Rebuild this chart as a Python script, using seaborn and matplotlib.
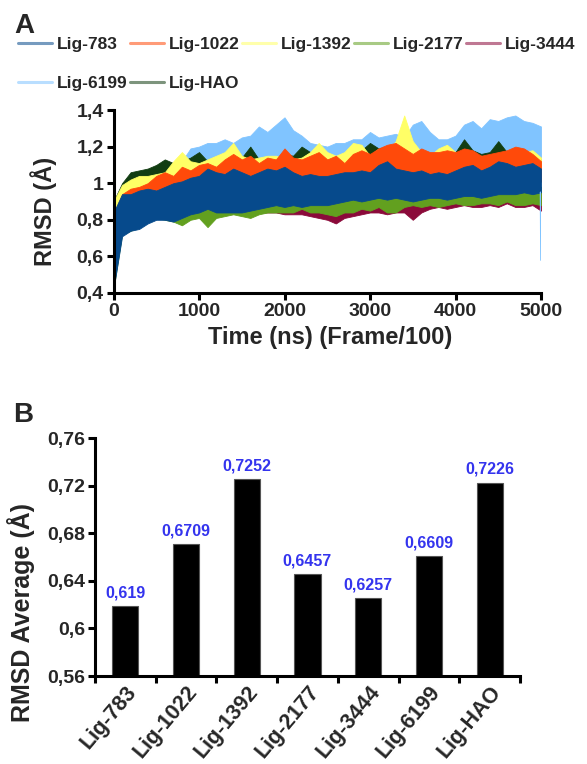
import numpy as np
import pandas as pd
import matplotlib
matplotlib.use("Agg")
import matplotlib.pyplot as plt
from matplotlib.lines import Line2D
from matplotlib.ticker import FuncFormatter
import seaborn as sns

sns.set_theme(style="ticks")
plt.rcParams["font.family"] = ["Liberation Sans", "DejaVu Sans"]
plt.rcParams["font.weight"] = "bold"

ligands = ["Lig-783", "Lig-1022", "Lig-1392", "Lig-2177", "Lig-3444", "Lig-6199", "Lig-HAO"]
colors = {
    "Lig-783": "#064a8c",
    "Lig-1022": "#ff4a0a",
    "Lig-1392": "#ffff66",
    "Lig-2177": "#62a01f",
    "Lig-3444": "#8b0a3a",
    "Lig-6199": "#80c4ff",
    "Lig-HAO": "#123d12",
}

# trajectory frames (Frame/100)
frames = [0, 100, 200, 300, 400, 500, 600, 700, 800, 900,
          1000, 1100, 1200, 1300, 1400, 1500, 1600, 1700, 1800, 1900,
          2000, 2100, 2200, 2300, 2400, 2500, 2600, 2700, 2800, 2900,
          3000, 3100, 3200, 3300, 3400, 3500, 3600, 3700, 3800, 3900,
          4000, 4100, 4200, 4300, 4400, 4500, 4600, 4700, 4800, 4900, 5000]

# RMSD fluctuation range per ligand: upper (_hi) and lower (_lo) extremes at each frame
lig783_hi = [0.84, 0.94, 0.94, 0.96, 0.97, 0.96, 0.98, 1.00, 1.01, 1.03,
             1.04, 1.08, 1.06, 1.05, 1.08, 1.06, 1.04, 1.06, 1.08, 1.07,
             1.09, 1.06, 1.04, 1.05, 1.04, 1.04, 1.05, 1.06, 1.06, 1.07,
             1.06, 1.10, 1.12, 1.08, 1.07, 1.06, 1.07, 1.05, 1.06, 1.05,
             1.07, 1.09, 1.10, 1.07, 1.09, 1.12, 1.11, 1.09, 1.10, 1.11, 1.08]
lig783_lo = [0.42, 0.71, 0.74, 0.75, 0.78, 0.80, 0.80, 0.79, 0.81, 0.83,
             0.84, 0.86, 0.84, 0.84, 0.84, 0.84, 0.85, 0.86, 0.87, 0.88,
             0.87, 0.88, 0.87, 0.88, 0.88, 0.88, 0.89, 0.90, 0.91, 0.90,
             0.91, 0.92, 0.91, 0.92, 0.91, 0.90, 0.91, 0.92, 0.92, 0.91,
             0.92, 0.93, 0.93, 0.92, 0.93, 0.94, 0.94, 0.94, 0.95, 0.94, 0.95]

lig1022_hi = [0.83, 0.94, 0.97, 0.98, 1.00, 1.04, 1.06, 1.04, 1.09, 1.07,
              1.10, 1.11, 1.09, 1.13, 1.16, 1.13, 1.15, 1.11, 1.14, 1.13,
              1.19, 1.14, 1.13, 1.15, 1.17, 1.13, 1.15, 1.11, 1.16, 1.18,
              1.16, 1.19, 1.21, 1.22, 1.19, 1.16, 1.19, 1.17, 1.17, 1.18,
              1.17, 1.19, 1.18, 1.15, 1.16, 1.17, 1.18, 1.20, 1.19, 1.16, 1.12]

lig1392_hi = [0.90, 0.99, 1.02, 1.04, 1.04, 1.05, 1.06, 1.12, 1.17, 1.12,
              1.11, 1.13, 1.15, 1.17, 1.22, 1.15, 1.13, 1.14, 1.15, 1.15,
              1.14, 1.13, 1.14, 1.17, 1.22, 1.17, 1.15, 1.17, 1.22, 1.21,
              1.15, 1.19, 1.17, 1.23, 1.37, 1.23, 1.17, 1.15, 1.19, 1.21,
              1.17, 1.15, 1.14, 1.15, 1.12, 1.14, 1.15, 1.14, 1.17, 1.18, 1.14]

ligHAO_hi = [0.90, 1.00, 1.06, 1.07, 1.08, 1.10, 1.13, 1.11, 1.12, 1.14,
             1.17, 1.12, 1.13, 1.15, 1.14, 1.14, 1.20, 1.13, 1.14, 1.14,
             1.16, 1.15, 1.20, 1.17, 1.15, 1.15, 1.14, 1.16, 1.21, 1.18,
             1.22, 1.19, 1.20, 1.18, 1.19, 1.20, 1.16, 1.16, 1.17, 1.18,
             1.17, 1.24, 1.18, 1.16, 1.17, 1.23, 1.17, 1.19, 1.18, 1.16, 1.13]

lig6199_hi = [0.70, 0.95, 1.00, 1.02, 1.04, 1.06, 1.08, 1.10, 1.12, 1.19,
              1.20, 1.22, 1.22, 1.24, 1.22, 1.25, 1.26, 1.31, 1.28, 1.32,
              1.36, 1.29, 1.26, 1.22, 1.21, 1.20, 1.22, 1.22, 1.24, 1.24,
              1.28, 1.25, 1.26, 1.27, 1.25, 1.32, 1.34, 1.28, 1.24, 1.24,
              1.26, 1.32, 1.34, 1.30, 1.35, 1.34, 1.36, 1.37, 1.34, 1.33, 1.31]

# lower extremes of the upper traces (they stay under the Lig-783 trace)
upper_traces_lo = [0.45, 0.78, 0.80, 0.81, 0.84, 0.86, 0.86, 0.85, 0.87, 0.89,
                   0.90, 0.92, 0.90, 0.90, 0.90, 0.90, 0.91, 0.92, 0.93, 0.94,
                   0.93, 0.94, 0.93, 0.94, 0.94, 0.94, 0.95, 0.96, 0.97, 0.96,
                   0.97, 0.98, 0.97, 0.98, 0.97, 0.96, 0.97, 0.98, 0.98, 0.97,
                   0.98, 0.99, 0.99, 0.98, 0.99, 1.00, 1.00, 1.00, 1.01, 1.00, 1.01]

lig2177_hi = [0.70, 0.85, 0.88, 0.90, 0.91, 0.92, 0.93, 0.94, 0.95, 0.96,
              0.96, 0.97, 0.97, 0.97, 0.97, 0.97, 0.97, 0.97, 0.98, 0.98,
              0.98, 0.98, 0.98, 0.98, 0.98, 0.98, 0.99, 0.99, 0.99, 0.99,
              0.99, 1.00, 1.00, 1.00, 1.00, 1.00, 1.00, 1.00, 1.00, 1.00,
              1.00, 1.00, 1.00, 1.00, 1.00, 1.00, 1.00, 1.00, 1.00, 1.00, 0.98]
lig2177_lo = [0.42, 0.72, 0.74, 0.76, 0.79, 0.81, 0.80, 0.79, 0.77, 0.80,
              0.81, 0.76, 0.81, 0.82, 0.83, 0.82, 0.81, 0.83, 0.84, 0.84,
              0.84, 0.84, 0.86, 0.84, 0.84, 0.83, 0.82, 0.84, 0.84, 0.86,
              0.85, 0.87, 0.84, 0.84, 0.87, 0.88, 0.87, 0.88, 0.87, 0.88,
              0.89, 0.88, 0.88, 0.89, 0.89, 0.88, 0.90, 0.88, 0.88, 0.89, 0.88]

lig3444_hi = [0.68, 0.83, 0.86, 0.88, 0.89, 0.90, 0.91, 0.92, 0.93, 0.94,
              0.94, 0.95, 0.95, 0.95, 0.95, 0.95, 0.95, 0.95, 0.96, 0.96,
              0.96, 0.96, 0.96, 0.96, 0.96, 0.96, 0.97, 0.97, 0.97, 0.97,
              0.97, 0.98, 0.98, 0.98, 0.98, 0.98, 0.98, 0.98, 0.98, 0.98,
              0.98, 0.98, 0.98, 0.98, 0.98, 0.98, 0.98, 0.98, 0.98, 0.98, 0.96]
lig3444_lo = [0.45, 0.74, 0.76, 0.78, 0.80, 0.82, 0.82, 0.82, 0.82, 0.83,
              0.83, 0.83, 0.83, 0.84, 0.84, 0.84, 0.84, 0.84, 0.84, 0.84,
              0.83, 0.83, 0.83, 0.82, 0.81, 0.80, 0.78, 0.81, 0.82, 0.83,
              0.84, 0.84, 0.83, 0.84, 0.84, 0.80, 0.84, 0.86, 0.87, 0.86,
              0.87, 0.88, 0.87, 0.87, 0.88, 0.87, 0.89, 0.87, 0.87, 0.88, 0.85]

# final frame drop of Lig-6199
lig6199_end_frames = [4995, 5000]
lig6199_end_rmsd = [0.95, 0.58]

# average RMSD per ligand
rmsd_avg = [0.619, 0.6709, 0.7252, 0.6457, 0.6257, 0.6609, 0.7226]

ranges = {
    "Lig-783": (lig783_hi, lig783_lo),
    "Lig-1022": (lig1022_hi, upper_traces_lo),
    "Lig-1392": (lig1392_hi, upper_traces_lo),
    "Lig-2177": (lig2177_hi, lig2177_lo),
    "Lig-3444": (lig3444_hi, lig3444_lo),
    "Lig-6199": (lig6199_hi, upper_traces_lo),
    "Lig-HAO": (ligHAO_hi, upper_traces_lo),
}

rows = []
for lig, (hi, lo) in ranges.items():
    for f, h, l in zip(frames, hi, lo):
        rows.append((lig, f, h))
        rows.append((lig, f, l))
traj = pd.DataFrame(rows, columns=["ligand", "frame", "rmsd"])

fig = plt.figure(figsize=(5.87, 7.64), dpi=100)
W, H = 587, 764
ax1 = fig.add_axes([113.5 / W, 1 - 293 / H, (541 - 113.5) / W, (293 - 110) / H])
ax2 = fig.add_axes([95 / W, 1 - 676 / H, (520 - 95) / W, (676 - 438) / H])

# ---- panel A: RMSD over the trajectory (min-max envelope of each trace) ----
draw_order = ["Lig-6199", "Lig-HAO", "Lig-1392", "Lig-1022", "Lig-3444", "Lig-2177", "Lig-783"]
for i, lig in enumerate(draw_order):
    sns.lineplot(data=traj[traj["ligand"] == lig], x="frame", y="rmsd",
                 estimator="mean", errorbar=("pi", 100), color=colors[lig],
                 linewidth=0, legend=False, ax=ax1,
                 err_kws={"alpha": 1, "linewidth": 0.6, "edgecolor": colors[lig],
                          "zorder": 2 + i})
sns.lineplot(x=lig6199_end_frames, y=lig6199_end_rmsd, color=colors["Lig-6199"],
             linewidth=1.2, ax=ax1, zorder=12)

ax1.set_xlim(0, 5000)
ax1.set_ylim(0.4, 1.4)
ax1.set_xticks(range(0, 5001, 1000))
ax1.set_yticks([0.4, 0.6, 0.8, 1.0, 1.2, 1.4])
comma = FuncFormatter(lambda v, p: f"{round(v, 2):g}".replace(".", ","))
ax1.yaxis.set_major_formatter(comma)
ax1.set_xlabel("")
ax1.set_ylabel("")
for ax in (ax1, ax2):
    sns.despine(ax=ax)
    for s in ("left", "bottom"):
        ax.spines[s].set_linewidth(2.2)
        ax.spines[s].set_color("black")
        ax.spines[s].set_zorder(20)
    ax.tick_params(axis="both", which="both", direction="out", length=5, width=2.2,
                   color="black", labelsize=14, pad=2)
for t in ax1.get_xticklabels() + ax1.get_yticklabels():
    t.set_fontweight("bold")

fig.text(44 / W, 1 - 211 / H, "RMSD (Å)", rotation=90, ha="center", va="center",
         fontsize=17, fontweight="bold")
fig.text(330 / W, 1 - 337 / H, "Time (ns) (Frame/100)", ha="center", va="center",
         fontsize=17, fontweight="bold")

legend_order = ["Lig-783", "Lig-6199", "Lig-1022", "Lig-HAO", "Lig-1392", "Lig-2177", "Lig-3444"]
handles = [Line2D([0], [0], color=colors[l], lw=2.2, alpha=0.55) for l in legend_order]
fig.legend(handles, legend_order, ncol=5, loc="upper left", bbox_to_anchor=(18 / W, 1 - 37 / H),
           frameon=False, handlelength=1.95, handletextpad=0.29,
           columnspacing=0.14, labelspacing=1.35, borderpad=0, borderaxespad=0,
           prop={"weight": "bold", "size": 12.5})

fig.text(14 / W, 1 - 33 / H, "A", fontsize=20, fontweight="bold", va="baseline")
fig.text(13 / W, 1 - 421.5 / H, "B", fontsize=20, fontweight="bold", va="baseline")

# ---- panel B: average RMSD ----
avg = pd.DataFrame({"ligand": ligands, "rmsd": rmsd_avg})
sns.barplot(data=avg, x="ligand", y="rmsd", color="black", width=0.43,
            edgecolor="#555555", linewidth=0.8, saturation=1, ax=ax2)
ax2.set_ylim(0.56, 0.76)
ax2.set_xlim(-0.5, 6.5)
ax2.set_yticks([0.56, 0.60, 0.64, 0.68, 0.72, 0.76])
ax2.yaxis.set_major_formatter(comma)
ax2.set_xticks(np.arange(-0.5, 7.0, 1.0), minor=True)
ax2.tick_params(axis="x", which="major", length=0, pad=4)
ax2.set_xlabel("")
ax2.set_ylabel("")
for t in ax2.get_xticklabels():
    t.set_rotation(50)
    t.set_ha("right")
    t.set_rotation_mode("anchor")
    t.set_fontweight("bold")
    t.set_fontsize(15.5)
for t in ax2.get_yticklabels():
    t.set_fontweight("bold")

for patch, v in zip(ax2.patches, rmsd_avg):
    ax2.annotate(str(v).replace(".", ","), (patch.get_x() + patch.get_width() / 2, v),
                 xytext=(0, 4), textcoords="offset points", ha="center", va="bottom",
                 fontsize=11.5, fontweight="bold", color="#3434ee", annotation_clip=False)

fig.text(21 / W, 1 - 612 / H, "RMSD Average (Å)", rotation=90, ha="center", va="center",
         fontsize=18, fontweight="bold")

fig.savefig("out.png", dpi=100)
